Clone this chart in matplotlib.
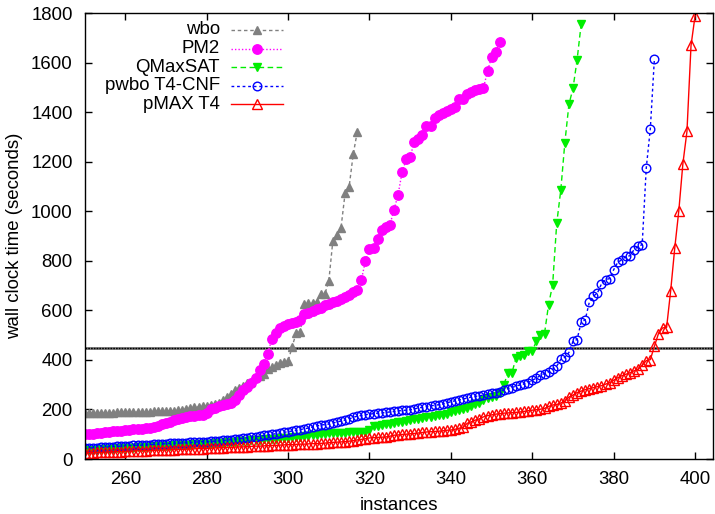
import numpy as np
import matplotlib
matplotlib.use("Agg")
import matplotlib.pyplot as plt
from matplotlib.lines import Line2D

plt.rcParams['font.family'] = ['Liberation Sans', 'DejaVu Sans']

X_START = 250

series_names = ["wbo", "PM2", "QMaxSAT", "pwbo T4-CNF", "pMAX T4"]

wbo = [185, 185, 186, 186, 186, 187, 187, 187, 188, 188,
       188, 189, 189, 189, 190, 190, 191, 192, 192, 193,
       193, 194, 195, 196, 198, 202, 205, 208, 210, 212,
       215, 218, 222, 228, 238, 250, 262, 280, 288, 295,
       305, 312, 330, 336, 342, 365, 372, 378, 386, 393,
       395, 453, 510, 514, 625, 628, 631, 635, 664, 664,
       718, 881, 904, 933, 1072, 1099, 1230, 1321]

pm2 = [101, 101, 102, 103, 104, 108, 110, 112, 113, 114,
       116, 118, 120, 122, 123, 124, 126, 130, 135, 142,
       147, 150, 156, 160, 165, 170, 172, 174, 177, 178,
       184, 200, 207, 214, 216, 220, 228, 240, 258, 280,
       290, 305, 325, 358, 385, 425, 484, 507, 527, 535,
       545, 550, 553, 560, 586, 590, 596, 604, 610, 620,
       626, 632, 639, 645, 652, 662, 672, 682, 722, 800,
       846, 850, 887, 924, 937, 944, 1005, 1065, 1157, 1209,
       1219, 1281, 1290, 1309, 1344, 1345, 1375, 1387, 1395, 1406,
       1412, 1419, 1453, 1454, 1473, 1482, 1489, 1493, 1497, 1566,
       1622, 1642, 1684]

qmaxsat = [36, 37, 38, 38, 39, 40, 41, 42, 43, 44,
           45, 46, 46, 47, 48, 49, 50, 51, 51, 52,
           53, 54, 55, 55, 56, 57, 58, 59, 59, 60,
           61, 62, 63, 64, 65, 67, 69, 70, 72, 73,
           74, 75, 76, 78, 79, 80, 81, 82, 84, 85,
           86, 88, 89, 90, 92, 93, 95, 97, 99, 101,
           103, 104, 104, 105, 106, 107, 108, 109, 110, 110,
           117, 132, 135, 137, 140, 142, 145, 148, 151, 154,
           157, 160, 163, 166, 168, 171, 174, 176, 178, 180,
           191, 195, 198, 202, 206, 214, 222, 228, 240, 246,
           251, 256, 265, 300, 346, 348, 408, 417, 421, 435,
           437, 475, 502, 506, 623, 704, 951, 1085, 1277, 1431,
           1496, 1610, 1754]

pwbo = [43, 44, 45, 46, 47, 48, 49, 50, 51, 52,
        53, 54, 55, 56, 56, 57, 58, 59, 60, 61,
        62, 63, 64, 64, 65, 66, 67, 68, 69, 70,
        70, 71, 72, 73, 75, 76, 78, 80, 82, 84,
        86, 88, 90, 92, 95, 97, 100, 102, 105, 108,
        110, 113, 116, 119, 122, 125, 129, 133, 137, 139,
        141, 145, 150, 153, 157, 162, 168, 173, 176, 179,
        181, 183, 185, 186, 188, 190, 192, 194, 196, 197,
        199, 202, 206, 209, 211, 214, 217, 219, 222, 227,
        231, 235, 238, 242, 246, 250, 253, 255, 258, 262,
        265, 268, 272, 278, 284, 288, 295, 299, 303, 308,
        318, 326, 338, 345, 352, 362, 375, 402, 410, 430,
        475, 482, 552, 562, 632, 657, 670, 707, 724, 728,
        764, 794, 804, 818, 820, 845, 858, 865, 1174, 1333,
        1615]

pmax = [25, 26, 26, 27, 27, 28, 29, 29, 30, 30,
        31, 32, 32, 33, 33, 34, 35, 35, 36, 36,
        37, 38, 38, 39, 39, 40, 41, 41, 42, 42,
        43, 44, 45, 45, 46, 47, 47, 48, 49, 49,
        50, 51, 52, 52, 53, 54, 55, 55, 56, 57,
        58, 58, 59, 60, 60, 61, 62, 62, 63, 64,
        66, 67, 68, 69, 70, 72, 74, 77, 79, 82,
        85, 86, 87, 88, 89, 92, 96, 97, 99, 100,
        102, 103, 105, 107, 109, 110, 111, 112, 114, 116,
        117, 120, 124, 128, 144, 150, 157, 162, 170, 175,
        178, 181, 183, 185, 186, 187, 188, 190, 192, 195,
        197, 199, 201, 204, 212, 218, 220, 226, 234, 250,
        258, 268, 274, 280, 284, 288, 292, 296, 302, 308,
        318, 328, 336, 342, 348, 356, 362, 378, 397, 401,
        455, 506, 529, 531, 679, 851, 1002, 1192, 1322, 1669,
        1789]

threshold = 450
xticks = [260, 280, 300, 320, 340, 360, 380, 400]
yticks = [0, 200, 400, 600, 800, 1000, 1200, 1400, 1600, 1800]

styles = [
    dict(color='#808080', marker='^', ms=5.5, mfc='#808080', mec='#808080',
         ls=(0, (2.5, 2)), lw=1.0),
    dict(color='#ff00ff', marker='o', ms=6.8, mfc='#ff00ff', mec='#ff00ff',
         ls=(0, (1, 1.5)), lw=1.0),
    dict(color='#00ee00', marker='v', ms=5.8, mfc='#00ee00', mec='#00ee00',
         ls=(0, (4, 2.5)), lw=1.0),
    dict(color='#0000ff', marker='o', ms=6.2, mfc='none', mec='#0000ff', mew=1.0,
         ls=(0, (2, 2)), lw=1.0),
    dict(color='#ff0000', marker='^', ms=6.8, mfc='none', mec='#ff0000', mew=1.0,
         ls='-', lw=1.0),
]

W, H = 715, 514
fig = plt.figure(figsize=(W / 100, H / 100), dpi=100)
ax_l, ax_r, ax_t, ax_b = 84.6, 713, 13, 459
ax = fig.add_axes([ax_l / W, 1 - ax_b / H, (ax_r - ax_l) / W, (ax_b - ax_t) / H])

ax.axhline(threshold, color='#777777', lw=2.0, ls='-', zorder=1)
ax.axhline(threshold, color='#000000', lw=1.0, ls=(0, (1.2, 0.8)), zorder=1)

all_series = [wbo, pm2, qmaxsat, pwbo, pmax]
for name, ys, st in zip(series_names, all_series, styles):
    xs = np.arange(X_START, X_START + len(ys))
    ax.plot(xs, ys, label=name, zorder=2, **st)

ax.set_xlim(250, 404.4)
ax.set_ylim(0, 1800)
ax.set_xticks(xticks)
ax.set_yticks(yticks)
fs = 13.4
ax.tick_params(direction='in', length=5, width=1.0, top=True, right=True,
               labelsize=fs)
ax.tick_params(axis='x', pad=9)
ax.tick_params(axis='y', pad=8.5)
for sp in ax.spines.values():
    sp.set_linewidth(1.0)
ax.set_xlabel('instances', fontsize=fs, labelpad=6)
ax.set_ylabel('wall clock time (seconds)', fontsize=fs, labelpad=6)

# gnuplot-style legend: right-justified labels followed by line samples
row0, drow = 30, 18.6
for i, (name, st) in enumerate(zip(series_names, styles)):
    yp = row0 + i * drow
    fy = 1 - yp / H
    fig.text(220 / W, fy, name, ha='right', va='center', fontsize=fs)
    kw = dict(st)
    fig.add_artist(Line2D([231 / W, 283 / W], [fy, fy], transform=fig.transFigure,
                          color=kw['color'], ls=kw['ls'], lw=kw['lw']))
    fig.add_artist(Line2D([257 / W], [fy], transform=fig.transFigure, ls='none',
                          marker=kw['marker'], ms=kw['ms'], mfc=kw['mfc'],
                          mec=kw['mec'], mew=kw.get('mew', 1.0)))

fig.savefig('out.png', dpi=100)
